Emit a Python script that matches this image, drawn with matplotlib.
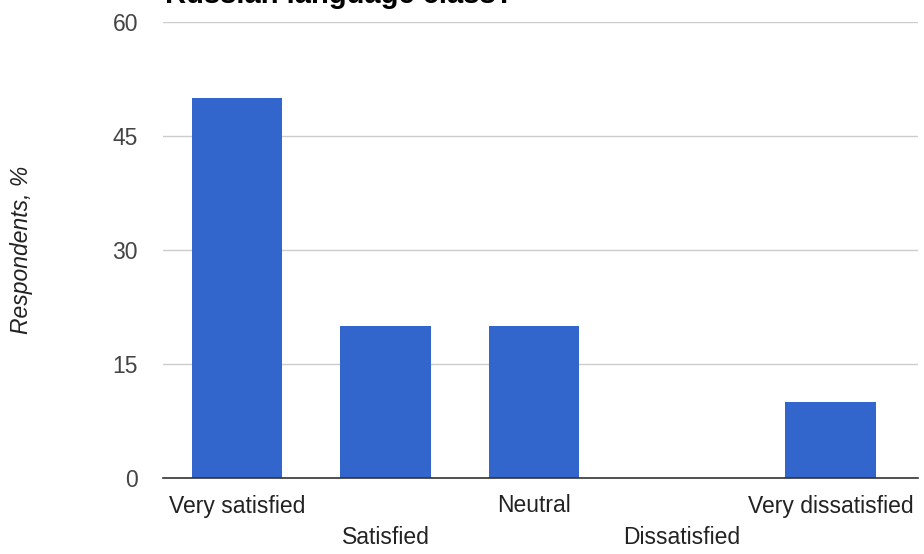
import matplotlib
matplotlib.use("Agg")
import matplotlib.pyplot as plt

# Survey answers
categories = ["Very satisfied", "Satisfied", "Neutral", "Dissatisfied", "Very dissatisfied"]
respondents = [50, 20, 20, 0, 10]
y_ticks = [0, 15, 30, 45, 60]

plt.rcParams['font.family'] = ['Liberation Sans', 'DejaVu Sans']

fig = plt.figure(figsize=(9.24, 5.54), dpi=100)
ax = fig.add_axes([163 / 924, 1 - 478 / 554, (918 - 163) / 924, (478 - 22) / 554])

x = list(range(len(categories)))
ax.bar(x, respondents, width=0.61, color="#3366cc", zorder=3)

ax.set_ylim(0, 60)
ax.set_xlim(-0.5, 4.59)
ax.set_yticks(y_ticks)
ax.set_yticklabels([str(v) for v in y_ticks], fontsize=16.5, color="#444444")
ax.yaxis.grid(True, color="#cccccc", linewidth=1, zorder=0)
ax.tick_params(axis="y", length=0, pad=18)
ax.tick_params(axis="x", length=0)

# staggered category labels like the original
ax.set_xticks(x)
ax.set_xticklabels([])
for i, name in enumerate(categories):
    offset = -28 if i % 2 == 0 else -60
    ax.annotate(name, xy=(i, 0), xycoords="data", xytext=(0, offset),
                textcoords="offset pixels",
                ha="center", va="center", fontsize=16.5, color="#222222")

for side in ["top", "right", "left"]:
    ax.spines[side].set_visible(False)
ax.spines["bottom"].set_color("#333333")
ax.spines["bottom"].set_linewidth(1.2)
ax.spines["bottom"].set_zorder(4)

ax.set_ylabel("Respondents, %", fontsize=16.5, style="italic", color="#222222")
ax.yaxis.set_label_coords((33 - 163) / 755, 0.5)

# title is mostly cut off at the top edge of the image
fig.text(165 / 924, 1 - 3 / 554, "Russian language class?", fontsize=21, fontweight="bold",
         color="#000000", ha="left", va="baseline")

fig.savefig("out.png", dpi=100)
